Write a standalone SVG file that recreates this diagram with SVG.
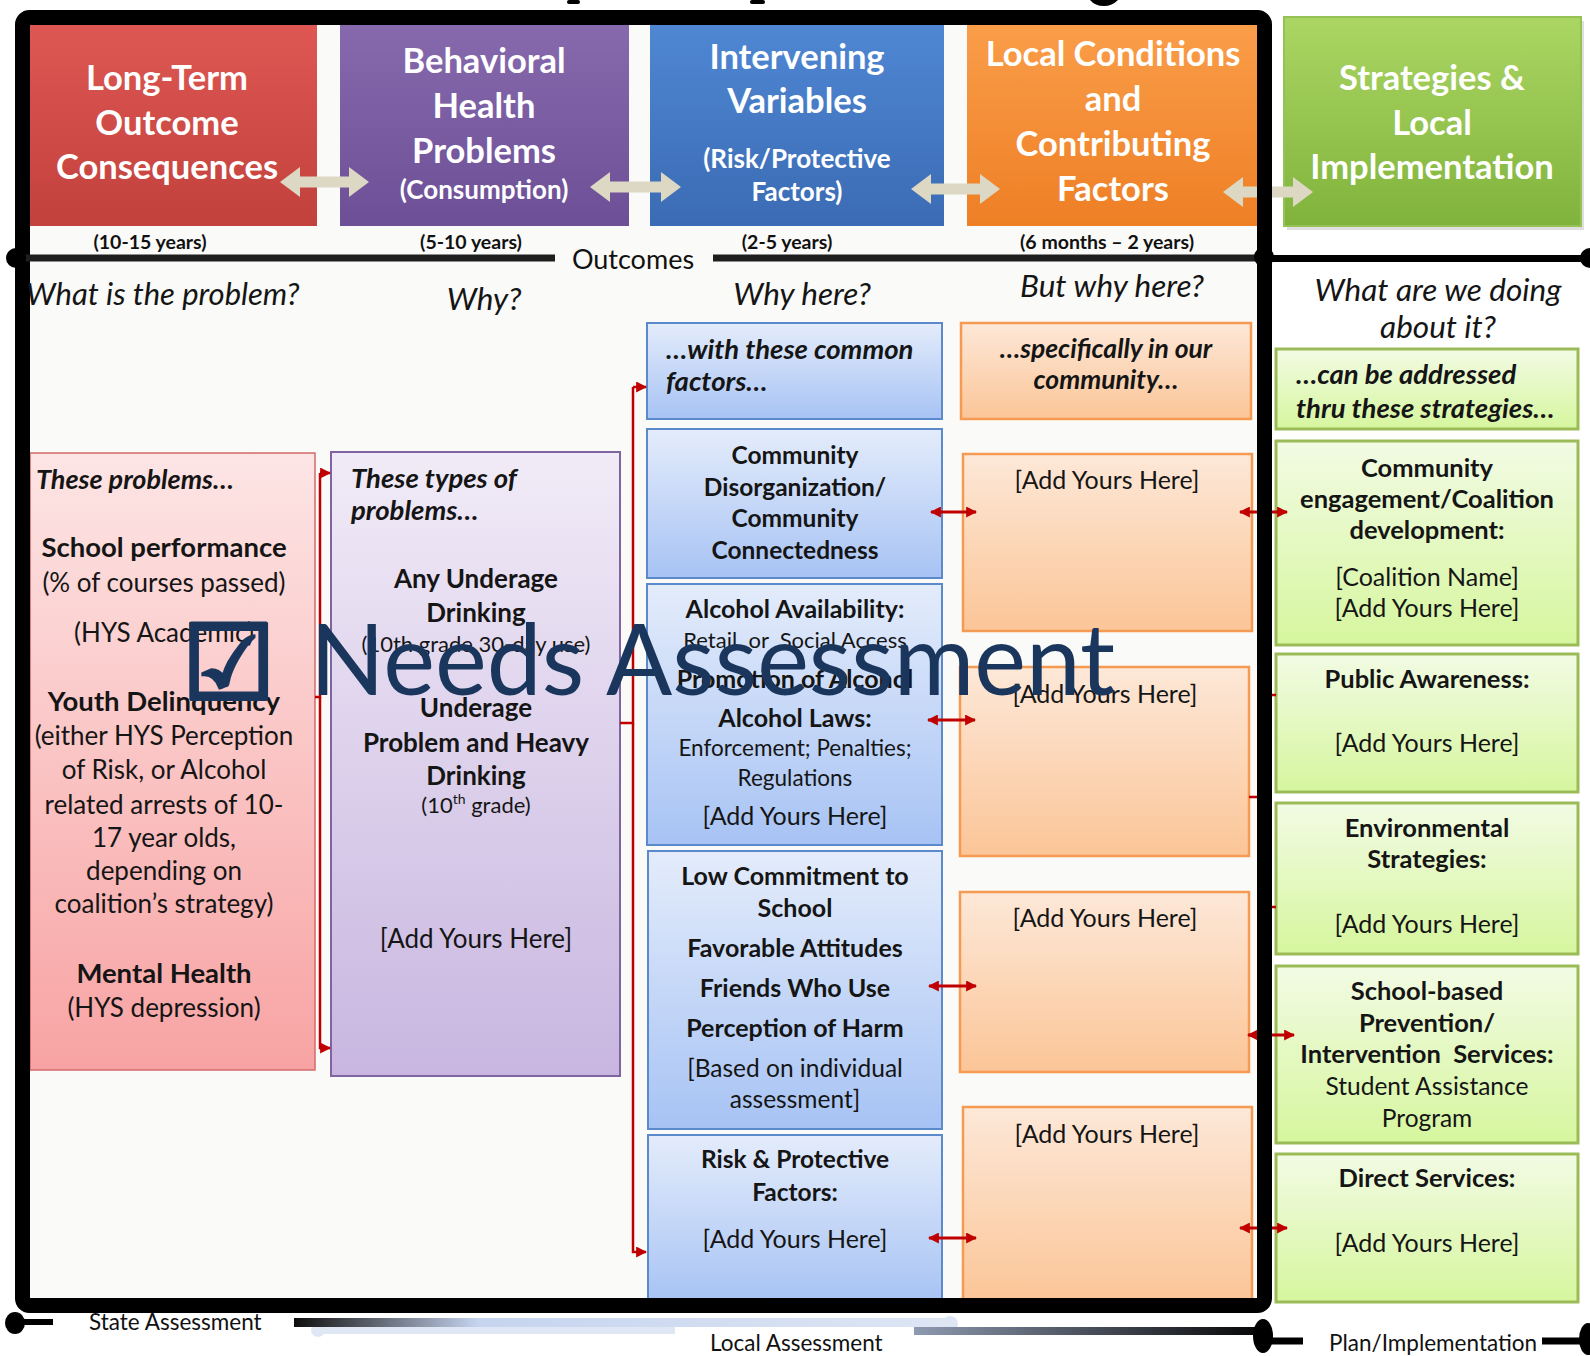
<svg xmlns="http://www.w3.org/2000/svg" width="1590" height="1356" viewBox="0 0 1590 1356">
<style>
text { font-family: Lato, "Liberation Sans", sans-serif; fill: #151515; }
.hd { font-weight: 700; font-size: 34.5px; fill: #fff; text-anchor: middle; }
.hs { font-size: 26px; }
.yr { font-weight: 700; font-size: 19.5px; text-anchor: middle; fill: #111; }
.q { font-style: italic; font-size: 31.5px; text-anchor: middle; }
.qs { font-style: italic; font-size: 31px; text-anchor: start; }
.c { text-anchor: middle; }
.b { font-weight: 700; }
.bi { font-weight: 700; font-style: italic; }
.s22 { font-size: 22px; }
.s225 { font-size: 22.5px; }
.s245 { font-size: 24.5px; }
.s25 { font-size: 25px; }
.s255 { font-size: 25.5px; }
.s26 { font-size: 26px; }
.s265 { font-size: 26.5px; }
.s27 { font-size: 27px; }
.s275 { font-size: 27.5px; }
.lbl { font-size: 22.5px; fill: #111; }
.outc { font-size: 27px; fill: #111; text-anchor: middle; }
.rbox { fill: url(#gRed); stroke: #d26a6a; stroke-width: 1.5; }
.pbox { fill: url(#gPur); stroke: #8064a2; stroke-width: 2; }
.bbox { fill: url(#gBlu); stroke: #5a89cc; stroke-width: 2; }
.obox { fill: url(#gOrg); stroke: #f59a52; stroke-width: 2.5; }
.gbox { fill: url(#gGrn); stroke: #9bbb59; stroke-width: 3; }
.harrow { fill: #dcd8c4; }
.conn { fill: none; stroke: #c00000; stroke-width: 2.5; }
.dbl { fill: none; stroke: #c00000; stroke-width: 3; marker-start: url(#ah); marker-end: url(#ah); }
.one { marker-end: url(#ah); }
.wm { fill: #1b365d; font-size: 98px; }
.wmbox { fill: #1b365d; stroke: #1b365d; stroke-width: 4; stroke-linejoin: miter; font-family: "DejaVu Sans", sans-serif; font-weight: 700; font-size: 104px; }
</style>
<defs>
<linearGradient id="gRedH" x1="0" y1="0" x2="0" y2="1"><stop offset="0" stop-color="#de5753"/><stop offset="1" stop-color="#c2413c"/></linearGradient>
<linearGradient id="gPurH" x1="0" y1="0" x2="0" y2="1"><stop offset="0" stop-color="#8769ad"/><stop offset="1" stop-color="#6c4f96"/></linearGradient>
<linearGradient id="gBluH" x1="0" y1="0" x2="0" y2="1"><stop offset="0" stop-color="#4f87d3"/><stop offset="1" stop-color="#3b6bb4"/></linearGradient>
<linearGradient id="gOrgH" x1="0" y1="0" x2="0" y2="1"><stop offset="0" stop-color="#fa9d49"/><stop offset="1" stop-color="#ee7f25"/></linearGradient>
<linearGradient id="gGrnH" x1="0" y1="0" x2="0" y2="1"><stop offset="0" stop-color="#abd663"/><stop offset="1" stop-color="#80b33c"/></linearGradient>
<linearGradient id="gRed" x1="0" y1="0" x2="0" y2="1"><stop offset="0" stop-color="#fde5e5"/><stop offset="1" stop-color="#f8a3a3"/></linearGradient>
<linearGradient id="gPur" x1="0" y1="0" x2="0" y2="1"><stop offset="0" stop-color="#f1ebf7"/><stop offset="1" stop-color="#c8b6e0"/></linearGradient>
<linearGradient id="gBlu" x1="0" y1="0" x2="0" y2="1"><stop offset="0" stop-color="#e4ecfb"/><stop offset="1" stop-color="#a7c3f4"/></linearGradient>
<linearGradient id="gOrg" x1="0" y1="0" x2="0" y2="1"><stop offset="0" stop-color="#fde8d8"/><stop offset="1" stop-color="#fbc597"/></linearGradient>
<linearGradient id="gGrn" x1="0" y1="0" x2="0" y2="1"><stop offset="0" stop-color="#f2fbe4"/><stop offset="1" stop-color="#d6f69e"/></linearGradient>
<linearGradient id="gBar1" x1="0" y1="0" x2="1" y2="0"><stop offset="0" stop-color="#0d0d0d"/><stop offset="0.28" stop-color="#c6d4ef"/><stop offset="1" stop-color="#dee6f4"/></linearGradient>
<linearGradient id="gBar3" x1="0" y1="0" x2="1" y2="0"><stop offset="0" stop-color="#8e9ab1"/><stop offset="1" stop-color="#050505"/></linearGradient>
<marker id="ah" viewBox="0 0 10 10" refX="9" refY="5" markerWidth="11" markerHeight="11" markerUnits="userSpaceOnUse" orient="auto-start-reverse"><path d="M0,0 L10,5 L0,10 z" fill="#c00000"/></marker>
</defs>

<rect width="1590" height="1356" fill="#fff"/>
<rect x="30" y="25" width="1227" height="1273" fill="#fafaf8"/>

<!-- title fragments (clipped title above the page) -->
<g id="title-fragment" fill="#000">
<rect x="567" y="0" width="13" height="4" rx="2"/>
<rect x="750" y="0" width="15" height="4" rx="2"/>
<path d="M1090,0 H1118 Q1112,6 1104,6 Q1095,6 1090,0 Z"/>
</g>

<!-- header nodes -->
<g id="hdr-longterm">
<rect x="30" y="25" width="287" height="201" fill="url(#gRedH)"/>
<text class="hd" x="167" y="90">Long-Term</text>
<text class="hd" x="167" y="135">Outcome</text>
<text class="hd" x="167" y="179">Consequences</text>
</g>
<g id="hdr-behavioral">
<rect x="340" y="25" width="289" height="201" fill="url(#gPurH)"/>
<text class="hd" x="484" y="73">Behavioral</text>
<text class="hd" x="484" y="118">Health</text>
<text class="hd" x="484" y="163">Problems</text>
<text class="hd hs" x="484" y="199">(Consumption)</text>
</g>
<g id="hdr-intervening">
<rect x="650" y="25" width="294" height="201" fill="url(#gBluH)"/>
<text class="hd" x="797" y="69">Intervening</text>
<text class="hd" x="797" y="113">Variables</text>
<text class="hd hs" x="797" y="168">(Risk/Protective</text>
<text class="hd hs" x="797" y="201">Factors)</text>
</g>
<g id="hdr-local">
<rect x="967" y="25" width="290" height="201" fill="url(#gOrgH)"/>
<text class="hd" x="1113" y="66">Local Conditions</text>
<text class="hd" x="1113" y="111">and</text>
<text class="hd" x="1113" y="156">Contributing</text>
<text class="hd" x="1113" y="201">Factors</text>
</g>
<g id="hdr-strategies">
<rect x="1287" y="21" width="297" height="209" fill="#c9c9c9" opacity="0.6"/>
<rect x="1284" y="17" width="297" height="209" fill="url(#gGrnH)" stroke="#95c255" stroke-width="2"/>
<text class="hd" x="1432" y="90">Strategies &amp;</text>
<text class="hd" x="1432" y="135">Local</text>
<text class="hd" x="1432" y="179">Implementation</text>
</g>

<!-- header double arrows -->
<g id="header-arrows">
<path class="harrow" d="M280,182 L300,167 L300,176.5 L349,176.5 L349,167 L369,182 L349,197 L349,187.5 L300,187.5 L300,197 Z"/>
<path class="harrow" d="M590,187 L610,172 L610,181.5 L661,181.5 L661,172 L681,187 L661,202 L661,192.5 L610,192.5 L610,202 Z"/>
<path class="harrow" d="M911,189 L931,174 L931,183.5 L980,183.5 L980,174 L1000,189 L980,204 L980,194.5 L931,194.5 L931,204 Z"/>
<path class="harrow" d="M1223,192 L1243,177 L1243,186.5 L1293,186.5 L1293,177 L1313,192 L1293,207 L1293,197.5 L1243,197.5 L1243,207 Z"/>
</g>

<!-- red column -->
<g id="node-problems">
<rect class="rbox" x="30" y="453" width="285" height="617"/>
<text class="bi s27" x="36" y="489">These problems…</text>
<text class="b s275 c" x="164" y="557">School performance</text>
<text class="s26 c" x="164" y="592">(% of courses passed)</text>
<text class="s26 c" x="164" y="642">(HYS Academic)</text>
<text class="b s275 c" x="164" y="711">Youth Delinquency</text>
<text class="s26 c" x="164" y="745">(either HYS Perception</text>
<text class="s26 c" x="164" y="779">of Risk, or Alcohol</text>
<text class="s26 c" x="164" y="814">related arrests of 10-</text>
<text class="s26 c" x="164" y="847">17 year olds,</text>
<text class="s26 c" x="164" y="880">depending on</text>
<text class="s26 c" x="164" y="913">coalition’s strategy)</text>
<text class="b s275 c" x="164" y="983">Mental Health</text>
<text class="s26 c" x="164" y="1017">(HYS depression)</text>
</g>

<!-- purple column -->
<g id="node-types">
<rect class="pbox" x="331" y="452" width="289" height="624"/>
<text class="bi s275" x="351" y="488">These types of</text>
<text class="bi s275" x="351" y="520">problems…</text>
<text class="b s26 c" x="476" y="588">Any Underage</text>
<text class="b s26 c" x="476" y="622">Drinking</text>
<text class="s22 c" x="476" y="652">(10th grade 30-day use)</text>
<text class="b s26 c" x="476" y="717">Underage</text>
<text class="b s26 c" x="476" y="752">Problem and Heavy</text>
<text class="b s26 c" x="476" y="785">Drinking</text>
<text class="s22 c" x="476" y="813">(10<tspan font-size="14" dy="-9">th</tspan><tspan dy="9"> grade)</tspan></text>
<text class="s26 c" x="476" y="948">[Add Yours Here]</text>
</g>

<!-- blue column -->
<g id="node-common">
<rect class="bbox" x="647" y="323" width="295" height="96"/>
<text class="bi s275" x="666" y="359">…with these common</text>
<text class="bi s275" x="666" y="391">factors…</text>
</g>
<g id="node-disorg">
<rect class="bbox" x="647" y="429" width="295" height="149"/>
<text class="b s245 c" x="795" y="464">Community</text>
<text class="b s245 c" x="795" y="496">Disorganization/</text>
<text class="b s245 c" x="795" y="527">Community</text>
<text class="b s245 c" x="795" y="559">Connectedness</text>
</g>
<g id="node-alcohol">
<rect class="bbox" x="647" y="584" width="295" height="261"/>
<text class="b s25 c" x="795" y="618">Alcohol Availability:</text>
<text class="s22 c" x="795" y="648" xml:space="preserve">Retail  or  Social Access</text>
<text class="b s25 c" x="795" y="688">Promotion of Alcohol</text>
<text class="b s25 c" x="795" y="727">Alcohol Laws:</text>
<text class="s225 c" x="795" y="756">Enforcement; Penalties;</text>
<text class="s225 c" x="795" y="786">Regulations</text>
<text class="s25 c" x="795" y="825">[Add Yours Here]</text>
</g>
<g id="node-school">
<rect class="bbox" x="648" y="851" width="294" height="278"/>
<text class="b s25 c" x="795" y="885">Low Commitment to</text>
<text class="b s25 c" x="795" y="917">School</text>
<text class="b s25 c" x="795" y="957">Favorable Attitudes</text>
<text class="b s25 c" x="795" y="997">Friends Who Use</text>
<text class="b s25 c" x="795" y="1037">Perception of Harm</text>
<text class="s245 c" x="795" y="1077">[Based on individual</text>
<text class="s245 c" x="795" y="1108">assessment]</text>
</g>
<g id="node-riskprot">
<rect class="bbox" x="648" y="1135" width="294" height="168"/>
<text class="b s245 c" x="795" y="1168">Risk &amp; Protective</text>
<text class="b s245 c" x="795" y="1201">Factors:</text>
<text class="s25 c" x="795" y="1248">[Add Yours Here]</text>
</g>

<!-- orange column -->
<g id="node-specific">
<rect class="obox" x="961" y="323" width="290" height="96"/>
<text class="bi s265 c" x="1106" y="358">…specifically in our</text>
<text class="bi s265 c" x="1106" y="389">community…</text>
</g>
<g id="node-local1">
<rect class="obox" x="963" y="454" width="289" height="177"/>
<text class="s25 c" x="1107" y="489">[Add Yours Here]</text>
</g>
<g id="node-local2">
<rect class="obox" x="960" y="667" width="289" height="189"/>
<text class="s25 c" x="1105" y="703">[Add Yours Here]</text>
</g>
<g id="node-local3">
<rect class="obox" x="960" y="892" width="289" height="180"/>
<text class="s25 c" x="1105" y="927">[Add Yours Here]</text>
</g>
<g id="node-local4">
<rect class="obox" x="963" y="1107" width="289" height="196"/>
<text class="s25 c" x="1107" y="1143">[Add Yours Here]</text>
</g>

<!-- green column -->
<g id="node-addressed">
<rect class="gbox" x="1276" y="349" width="302" height="80"/>
<text class="bi s275" x="1296" y="384">…can be addressed</text>
<text class="bi s275" x="1296" y="418">thru these strategies…</text>
</g>
<g id="node-coalition">
<rect class="gbox" x="1276" y="441" width="302" height="204"/>
<text class="b s255 c" x="1427" y="477">Community</text>
<text class="b s255 c" x="1427" y="508">engagement/Coalition</text>
<text class="b s255 c" x="1427" y="539">development:</text>
<text class="s25 c" x="1427" y="586">[Coalition Name]</text>
<text class="s25 c" x="1427" y="617">[Add Yours Here]</text>
</g>
<g id="node-awareness">
<rect class="gbox" x="1276" y="654" width="302" height="138"/>
<text class="b s255 c" x="1427" y="688">Public Awareness:</text>
<text class="s25 c" x="1427" y="752">[Add Yours Here]</text>
</g>
<g id="node-environmental">
<rect class="gbox" x="1276" y="803" width="302" height="151"/>
<text class="b s255 c" x="1427" y="837">Environmental</text>
<text class="b s255 c" x="1427" y="868">Strategies:</text>
<text class="s25 c" x="1427" y="933">[Add Yours Here]</text>
</g>
<g id="node-schoolbased">
<rect class="gbox" x="1276" y="966" width="302" height="177"/>
<text class="b s255 c" x="1427" y="1000">School-based</text>
<text class="b s255 c" x="1427" y="1032">Prevention/</text>
<text class="b s255 c" x="1427" y="1063" xml:space="preserve">Intervention  Services:</text>
<text class="s245 c" x="1427" y="1095">Student Assistance</text>
<text class="s245 c" x="1427" y="1127">Program</text>
</g>
<g id="node-direct">
<rect class="gbox" x="1276" y="1154" width="302" height="148"/>
<text class="b s255 c" x="1427" y="1187">Direct Services:</text>
<text class="s25 c" x="1427" y="1252">[Add Yours Here]</text>
</g>

<!-- connectors -->
<g id="connectors">
<path class="conn" d="M315,697 H320 V473"/>
<path class="conn one" d="M320,473 H330"/>
<path class="conn one" d="M320,697 V1048 H330"/>
<path class="conn" d="M620,723 H633 V387"/>
<path class="conn one" d="M633,387 H646"/>
<path class="conn one" d="M633,723 V1252 H646"/>
<path class="dbl" d="M931,512 H976"/>
<path class="dbl" d="M928,720 H975"/>
<path class="dbl" d="M929,986 H976"/>
<path class="dbl" d="M929,1238 H976"/>
<path class="dbl" d="M1240,512 H1287"/>
<path class="dbl" d="M1248,1035 H1294"/>
<path class="dbl" d="M1240,1228 H1287"/>
<path class="conn" d="M1249,797 H1264 V695 H1276 M1264,797 V907 H1276"/>
</g>

<!-- frame -->
<rect x="22.5" y="17.5" width="1242" height="1288" rx="7" fill="none" stroke="#000" stroke-width="15"/>

<!-- outcomes line -->
<g id="outcomes-line">
<line x1="16" y1="258" x2="555" y2="258" stroke="#1e1e1e" stroke-width="7"/>
<line x1="713" y1="258" x2="1257" y2="258" stroke="#1e1e1e" stroke-width="7"/>
<line x1="1264" y1="258.5" x2="1590" y2="258.5" stroke="#000" stroke-width="7"/>
<circle cx="16" cy="258" r="10" fill="#000"/>
<circle cx="1264" cy="257" r="10" fill="#000"/>
<circle cx="1590" cy="258" r="10" fill="#000"/>
<text class="outc" x="633" y="269">Outcomes</text>
<text class="yr" x="150" y="249">(10-15 years)</text>
<text class="yr" x="471" y="249">(5-10 years)</text>
<text class="yr" x="787" y="249">(2-5 years)</text>
<text class="yr" x="1107" y="249">(6 months – 2 years)</text>
</g>

<!-- questions -->
<g id="questions">
<text class="qs" x="26" y="305">What is the problem?</text>
<text class="q" x="484" y="310">Why?</text>
<text class="q" x="802" y="305">Why here?</text>
<text class="q" x="1112" y="297">But why here?</text>
<text class="q" x="1438" y="301">What are we doing</text>
<text class="q" x="1438" y="338">about it?</text>
</g>

<!-- bottom timeline -->
<g id="timeline">
<ellipse cx="15" cy="1323" rx="10" ry="11" fill="#000"/>
<line x1="20" y1="1322" x2="53" y2="1322" stroke="#000" stroke-width="6"/>
<text class="lbl" x="89" y="1330">State Assessment</text>
<rect x="312" y="1327" width="363" height="7" fill="#dfe7f5"/>
<circle cx="318" cy="1330" r="7" fill="#dfe7f5"/>
<rect x="294" y="1318" width="658" height="9" fill="url(#gBar1)"/>
<circle cx="950" cy="1324" r="8" fill="#dee6f4"/>
<rect x="914" y="1327" width="348" height="8" fill="url(#gBar3)"/>
<ellipse cx="1263" cy="1336" rx="10" ry="17" fill="#000"/>
<line x1="1268" y1="1341" x2="1303" y2="1341" stroke="#000" stroke-width="7"/>
<text class="lbl" x="710" y="1351">Local Assessment</text>
<text class="lbl" x="1329" y="1351">Plan/Implementation</text>
<line x1="1542" y1="1341" x2="1585" y2="1341" stroke="#000" stroke-width="7"/>
<ellipse cx="1588" cy="1339" rx="9" ry="16" fill="#000"/>
</g>

<!-- watermark -->
<g id="watermark">
<text class="wmbox" x="182" y="699">☑</text>
<text class="wm" x="310" y="695">Needs Assessment</text>
</g>
</svg>
